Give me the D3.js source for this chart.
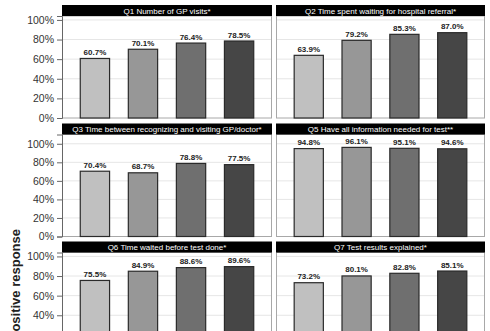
<!DOCTYPE html>
<html>
<head>
<meta charset="utf-8">
<script src="https://cdn.jsdelivr.net/npm/d3@7"></script>
<style>
  body { margin: 0; background: #fff; }
  svg { display: block; font-family: "Liberation Sans", Arial, sans-serif; }
</style>
</head>
<body>
<svg id="chart" width="490" height="331"></svg>
<script>
// data: share of positive responses per question, four groups each
const titles = [
    "Q1 Number of GP visits*",
    "Q2 Time spent waiting for hospital referral*",
    "Q3 Time between recognizing and visiting GP/doctor*",
    "Q5 Have all information needed for test**",
    "Q6 Time waited before test done*",
    "Q7 Test results explained*"
];
const groups = ["G1", "G2", "G3", "G4"];
const q1 = [60.7, 70.1, 76.4, 78.5];
const q2 = [63.9, 79.2, 85.3, 87.0];
const q3 = [70.4, 68.7, 78.8, 77.5];
const q5 = [94.8, 96.1, 95.1, 94.6];
const q6 = [75.5, 84.9, 88.6, 89.6];
const q7 = [73.2, 80.1, 82.8, 85.1];
const yTicks = [0, 20, 40, 60, 80, 100];
const rowMax = [104, 110, 104];

const series = [q1, q2, q3, q5, q6, q7];
const barColors = ["#c0c0c0", "#979797", "#6f6f6f", "#464646"];

const svg = d3.select("#chart");

// layout of the 2 x 3 grid
const cols = [{ x0: 62, x1: 272 }, { x0: 276, x1: 485 }];
const rowTop = [5, 123.5, 241.5];
const headerH = 11;
const plotH = 102;

series.forEach((vals, i) => {
    const row = Math.floor(i / 2), col = i % 2;
    const { x0, x1 } = cols[col];
    const top = rowTop[row];
    const plotTop = top + headerH;
    const plotBottom = plotTop + plotH;

    const x = d3.scaleBand()
        .domain(groups)
        .range([x0, x1])
        .paddingInner(0.39)
        .paddingOuter(0.38);

    const y = d3.scaleLinear()
        .domain([0, rowMax[row]])
        .range([plotBottom, plotTop]);

    const g = svg.append("g");

    // gridlines
    g.selectAll("line.grid")
        .data(yTicks.filter(t => t > 0))
        .enter()
        .append("line")
        .attr("class", "grid")
        .attr("x1", x0).attr("x2", x1)
        .attr("y1", d => y(d)).attr("y2", d => y(d))
        .attr("stroke", "#e6e6e6")
        .attr("stroke-width", 1);

    // panel frame
    g.append("rect")
        .attr("x", x0 + 0.5)
        .attr("y", plotTop)
        .attr("width", x1 - x0 - 1)
        .attr("height", plotH)
        .attr("fill", "none")
        .attr("stroke", "#a8a8a8")
        .attr("stroke-width", 1);

    // bars
    g.selectAll("rect.bar")
        .data(vals)
        .enter()
        .append("rect")
        .attr("class", "bar")
        .attr("x", (d, j) => x(groups[j]))
        .attr("y", d => y(d))
        .attr("width", x.bandwidth())
        .attr("height", d => y(0) - y(d))
        .attr("fill", (d, j) => barColors[j])
        .attr("stroke", "#2a2a2a")
        .attr("stroke-width", 1.2);

    // value labels
    g.selectAll("text.val")
        .data(vals)
        .enter()
        .append("text")
        .attr("class", "val")
        .attr("x", (d, j) => x(groups[j]) + x.bandwidth() / 2)
        .attr("y", d => y(d) - 3.5)
        .attr("text-anchor", "middle")
        .style("font-size", "8px")
        .style("font-weight", "bold")
        .style("fill", "#222")
        .text(d => d.toFixed(1) + "%");

    // header strip
    g.append("rect")
        .attr("x", x0)
        .attr("y", top)
        .attr("width", x1 - x0)
        .attr("height", headerH)
        .attr("fill", "#000");

    g.append("text")
        .attr("x", (x0 + x1) / 2)
        .attr("y", top + headerH / 2 + 3)
        .attr("text-anchor", "middle")
        .style("font-size", "8px")
        .style("fill", "#fff")
        .text(titles[i]);

    // y axis on the left column only
    if (col === 0) {
        const axis = g.append("g")
            .attr("transform", `translate(${x0},0)`)
            .call(d3.axisLeft(y)
                .tickValues(yTicks)
                .tickFormat(d => d + "%")
                .tickSize(5)
                .tickPadding(3));
        axis.select(".domain").attr("stroke", "#666");
        axis.selectAll(".tick line").attr("stroke", "#666");
        axis.selectAll("text")
            .style("font-size", "10.5px")
            .style("fill", "#333");
    }
});

// y axis title
svg.append("text")
    .attr("transform", "translate(20,229) rotate(-90)")
    .attr("text-anchor", "end")
    .style("font-size", "13px")
    .style("font-weight", "bold")
    .style("fill", "#222")
    .text("% positive response");
</script>
</body>
</html>
